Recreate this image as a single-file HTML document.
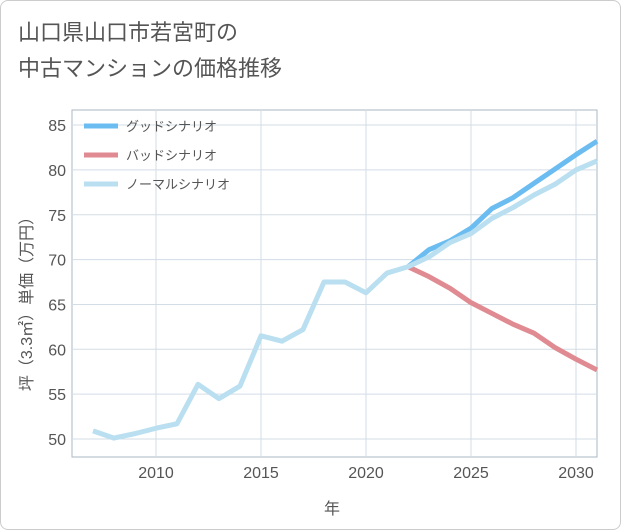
<!DOCTYPE html>
<html><head><meta charset="utf-8"><style>
body{margin:0;background:#fff;font-family:"Liberation Sans","Noto Sans CJK JP",sans-serif;}
#wrap{position:relative;width:619px;height:528px;border:1px solid #ccc;border-radius:8px;overflow:hidden;background:#fff}
</style></head><body>
<div id="wrap">
<svg id="svg" width="621" height="530" style="position:absolute;left:-1px;top:-1px">
<text x="18" y="40" font-size="22" fill="#555" font-family="Liberation Sans, Noto Sans CJK JP, sans-serif">山口県山口市若宮町の</text>
<text x="18" y="76" font-size="22" fill="#555" font-family="Liberation Sans, Noto Sans CJK JP, sans-serif">中古マンションの価格推移</text>
<g id="grid"></g><g id="lines"></g><g id="axes"></g>
<g font-size="13" fill="#555" font-family="Liberation Sans, Noto Sans CJK JP, sans-serif">
<line x1="84" y1="126" x2="118" y2="126" stroke="#6bbcf0" stroke-width="5"/>
<text x="126" y="131">グッドシナリオ</text>
<line x1="84" y1="155" x2="118" y2="155" stroke="#e08a91" stroke-width="5"/>
<text x="126" y="160">バッドシナリオ</text>
<line x1="84" y1="184" x2="118" y2="184" stroke="#b9dff0" stroke-width="5"/>
<text x="126" y="189">ノーマルシナリオ</text>
</g>
<text x="332" y="514" font-size="16" fill="#555" text-anchor="middle" font-family="Liberation Sans, Noto Sans CJK JP, sans-serif">年</text>
<text transform="translate(32,300) rotate(-90)" font-size="16" fill="#555" text-anchor="middle" font-family="Liberation Sans, Noto Sans CJK JP, sans-serif">坪（3.3㎡）単価（万円）</text>
</svg></div>
<script>
const years=[2007,2008,2009,2010,2011,2012,2013,2014,2015,2016,2017,2018,2019,2020,2021,2022,2023,2024,2025,2026,2027,2028,2029,2030,2031];
const normal=[50.9,50.1,50.6,51.2,51.7,56.1,54.5,55.9,61.5,60.9,62.2,67.5,67.5,66.3,68.5,69.2,70.3,71.9,72.9,74.6,75.8,77.2,78.4,80.0,81.0];
const scenYears=[2022,2023,2024,2025,2026,2027,2028,2029,2030,2031];
const good=[69.2,71.1,72.1,73.5,75.7,76.9,78.5,80.1,81.7,83.2];
const bad=[69.2,68.1,66.8,65.2,64.0,62.8,61.8,60.2,58.9,57.7];
const xTicks=[2010,2015,2020,2025,2030];
const yTicks=[50,55,60,65,70,75,80,85];
const L=72,R=597,T=110,B=457;
const x=v=>156+(v-2010)*21;
const y=v=>439-(v-50)*8.97;
const NS='http://www.w3.org/2000/svg';
function mk(p,t,a){const e=document.createElementNS(NS,t);for(const k in a)e.setAttribute(k,a[k]);p.appendChild(e);return e;}
const grid=document.getElementById('grid'),axes=document.getElementById('axes'),lines=document.getElementById('lines');
mk(grid,'rect',{x:L,y:T,width:R-L,height:B-T,fill:'none',stroke:'#aab8c6','stroke-width':1});
yTicks.forEach(v=>{
 const l=mk(grid,'line',{x1:L,x2:R,y1:y(v),y2:y(v),stroke:'#d3dde6'});
 
 
 const t=mk(axes,'text',{x:L-6,y:y(v)+6,'text-anchor':'end','font-size':16,fill:'#555'});
 t.textContent=v;
 
 
});
xTicks.forEach(v=>{
 const l=mk(grid,'line',{x1:x(v),x2:x(v),y1:T,y2:B,stroke:'#d3dde6'});
 
 
 const t=mk(axes,'text',{x:x(v),y:B+21,'text-anchor':'middle','font-size':16,fill:'#555'});
 t.textContent=v;
 
 
});
function line(xs,ys,c,n){
 const p=mk(lines,'polyline',{points:xs.map((v,i)=>x(v)+','+y(ys[i])).join(' '),fill:'none',stroke:c,'stroke-width':5,'stroke-linejoin':'round'});
 
 
}
line(scenYears,bad,'#e08a91','bad-scenario-line');
line(scenYears,good,'#6bbcf0','good-scenario-line');
line(years,normal,'#b9dff0','normal-scenario-line');
</script>
</body></html>
